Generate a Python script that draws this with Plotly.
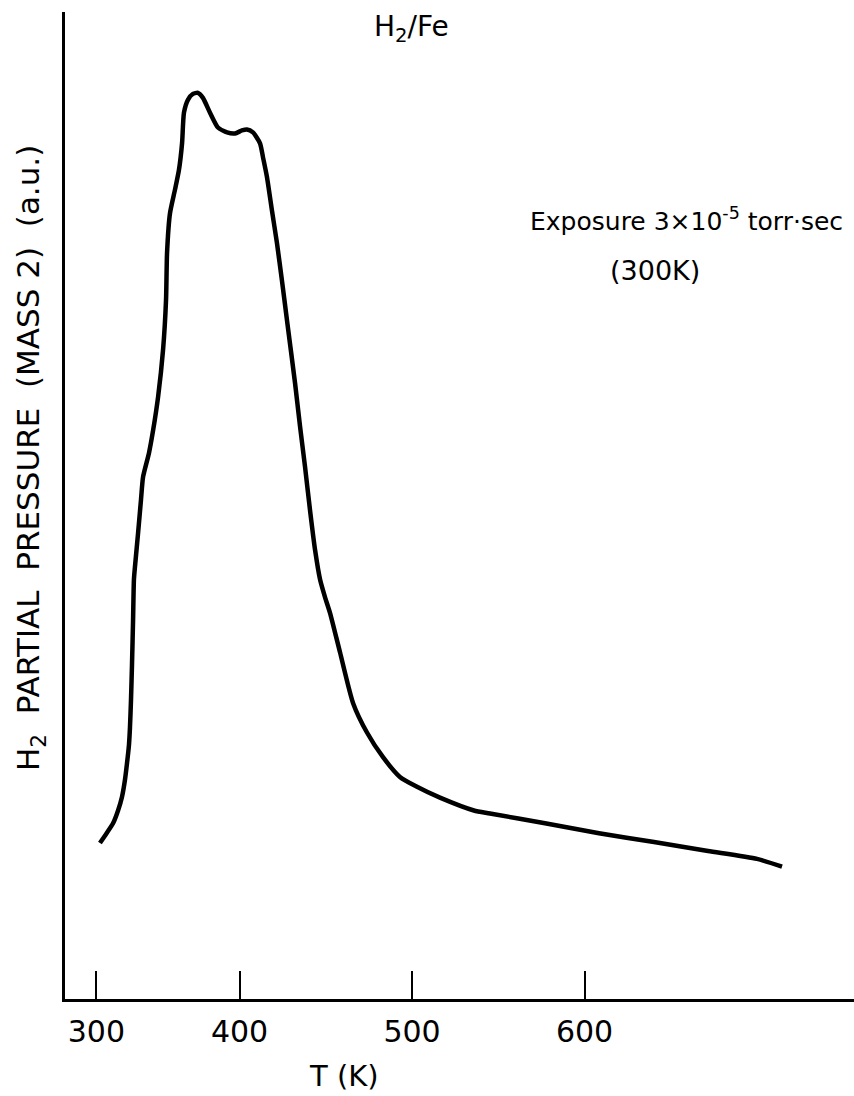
import plotly.graph_objects as go

# Temperature (K) and H2 partial pressure (arbitrary units)
temperature_K = [319.1, 322.6, 326.7, 329.6, 331.9, 333.6, 334.8, 335.9, 336.5, 337.1,
                 337.7, 338.3, 338.8, 339.4, 341.2, 342.9, 344.1, 347.5, 349.9, 352.8,
                 355.7, 357.4, 358.0, 359.7, 362.6, 364.9, 366.7, 367.8, 370.1, 373.0,
                 375.9, 378.8, 382.9, 387.5, 392.8, 397.4, 401.4, 404.3, 407.8, 411.9,
                 413.6, 415.9, 418.8, 421.7, 424.6, 427.5, 432.2, 435.1, 438.0,
                 440.9, 443.8, 446.7, 449.6, 452.5, 458.3, 465.8, 473.9, 483.2, 493.0,
                 502.9, 516.2, 535.9, 545.2, 577.1, 608.4, 640.3, 671.6, 700.0, 714.5]
pressure_au = [15.8, 16.7, 17.8, 19.1, 20.5, 22.2, 23.9, 25.7, 27.5, 30.3,
               34.0, 38.4, 42.5, 43.8, 47.2, 50.6, 52.9, 55.3, 57.6, 61.0,
               65.8, 70.8, 75.6, 79.6, 82.0, 84.0, 86.7, 89.8, 91.1, 91.7,
               91.8, 91.3, 89.8, 88.3, 87.8, 87.7, 88.0, 88.1, 87.8, 86.7,
               85.3, 83.3, 79.9, 76.6, 72.8, 68.8, 62.4, 58.0, 53.9,
               49.5, 45.5, 42.5, 40.7, 39.1, 35.1, 30.0, 27.0, 24.5, 22.5,
               21.5, 20.4, 19.1, 18.8, 17.8, 16.8, 15.9, 15.0, 14.2, 13.4]

# tick marks as drawn on the original (hand-lettered) axis
tick_values = [317, 400, 500, 600]
tick_labels = ["300", "400", "500", "600"]

FONT = "DejaVu Sans"

fig = go.Figure()
fig.add_trace(go.Scatter(
    x=temperature_K, y=pressure_au, mode="lines",
    line=dict(color="black", width=4.5, shape="spline", smoothing=0.6),
    showlegend=False, hoverinfo="skip"))

fig.update_layout(
    width=854, height=1096,
    margin=dict(l=65, r=0, t=12, b=97),
    paper_bgcolor="white", plot_bgcolor="white",
    font=dict(family=FONT, color="black"),
    xaxis=dict(range=[298.84, 756.23], showgrid=False, zeroline=False,
               showline=True, linecolor="black", linewidth=2.5,
               ticks="inside", ticklen=28, tickwidth=2, tickcolor="black",
               tickvals=tick_values, ticktext=tick_labels,
               tickfont=dict(family=FONT, size=30, color="black"),
               ticklabelstandoff=4),
    yaxis=dict(range=[0, 100], showgrid=False, zeroline=False,
               showline=True, linecolor="black", linewidth=2.5,
               ticks="", showticklabels=False),
)

def px_x(px):
    return (px - 65) / 789.0

def px_y(py):
    return (999 - py) / 987.0

annotations = [
    dict(text="H<sub>2</sub>/Fe", x=px_x(411), y=px_y(28), size=28, angle=0),
    dict(text="Exposure 3×10<sup>-5</sup> torr·sec", x=px_x(686), y=px_y(220), size=25, angle=0),
    dict(text="(300K)", x=px_x(655), y=px_y(270), size=27, angle=0),
    dict(text="T (K)", x=px_x(344), y=px_y(1076), size=29, angle=0),
    dict(text="H<sub>2</sub>\u00a0\u00a0PARTIAL\u00a0\u00a0PRESSURE\u00a0\u00a0(MASS 2)\u00a0\u00a0(a.u.)",
         x=px_x(31), y=px_y(458), size=31, angle=-90),
]
for a in annotations:
    fig.add_annotation(text=a["text"], x=a["x"], y=a["y"], xref="paper", yref="paper",
                       xanchor="center", yanchor="middle", showarrow=False,
                       textangle=a["angle"],
                       font=dict(family=FONT, size=a["size"], color="black"))

fig.write_html("out.html")
